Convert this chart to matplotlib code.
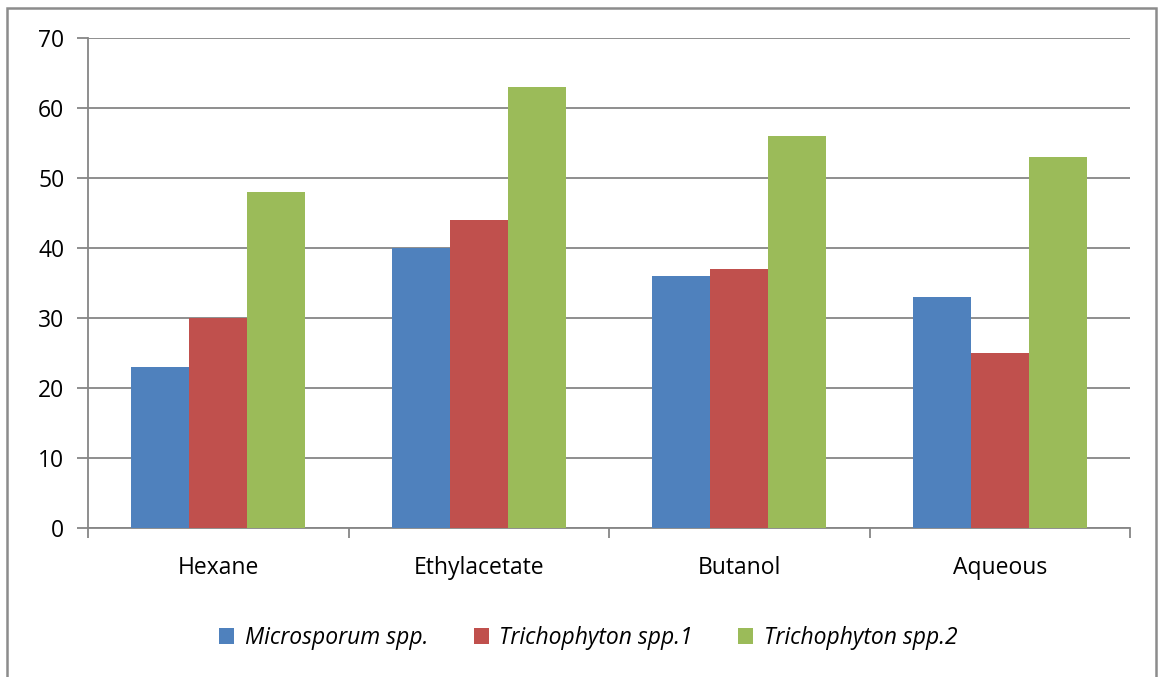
import numpy as np
import matplotlib
matplotlib.use("Agg")
import matplotlib.pyplot as plt
from matplotlib.patches import Rectangle

solvents = ["Hexane", "Ethylacetate", "Butanol", "Aqueous"]
series_names = ["Microsporum spp.", "Trichophyton spp.1", "Trichophyton spp.2"]
microsporum = [23, 40, 36, 33]
trichophyton_1 = [30, 44, 37, 25]
trichophyton_2 = [48, 63, 56, 53]
colors = ["#4F81BD", "#C0504D", "#9BBB59"]

plt.rcParams["font.family"] = ["Open Sans", "DejaVu Sans"]
grid_c = "#868686"

fig = plt.figure(figsize=(11.58, 6.77), dpi=100)
ax = fig.add_axes([88/1158, 1-528/677, (1130-88)/1158, 490/677])

x = np.arange(len(solvents))
w = 1/4.5
for i, (vals, name) in enumerate(zip([microsporum, trichophyton_1, trichophyton_2], series_names)):
    ax.bar(x + (i-1)*w, vals, width=w, color=colors[i], label=name, zorder=3)

ax.set_xlim(-0.5, len(solvents)-0.5)
ax.set_ylim(0, 70)
ax.set_yticks(range(0, 71, 10))
ax.yaxis.grid(True, color=grid_c, lw=1.3, zorder=0)
ax.tick_params(axis="y", length=8, width=1.3, color=grid_c, labelsize=16.5, pad=9)
# category boundary ticks on the x axis
ax.set_xticks(np.arange(-0.5, len(solvents), 1))
ax.set_xticklabels([])
ax.set_xticks(x, minor=True)
ax.set_xticklabels(solvents, minor=True, fontsize=16.5)
ax.tick_params(axis="x", which="major", length=7, width=1.3, color=grid_c, direction="out")
ax.tick_params(axis="x", which="minor", length=0, pad=20)
for s in ["top", "right"]:
    ax.spines[s].set_visible(False)
for s in ["left", "bottom"]:
    ax.spines[s].set_color(grid_c)
    ax.spines[s].set_linewidth(1.3)

fig.legend(loc="center", bbox_to_anchor=(0.508, 1-638/677), ncol=3, frameon=False,
           prop={"style": "italic", "size": 16.5}, handlelength=0.65, handleheight=0.65,
           handletextpad=0.45, columnspacing=2.0)

# outer chart border
fig.patches.append(Rectangle((7/1158, -0.1), (1156-7)/1158, 1.1-8/677, transform=fig.transFigure,
                             fill=False, edgecolor="#8c8c8c", lw=1.8))

fig.savefig("out.png", dpi=100)
